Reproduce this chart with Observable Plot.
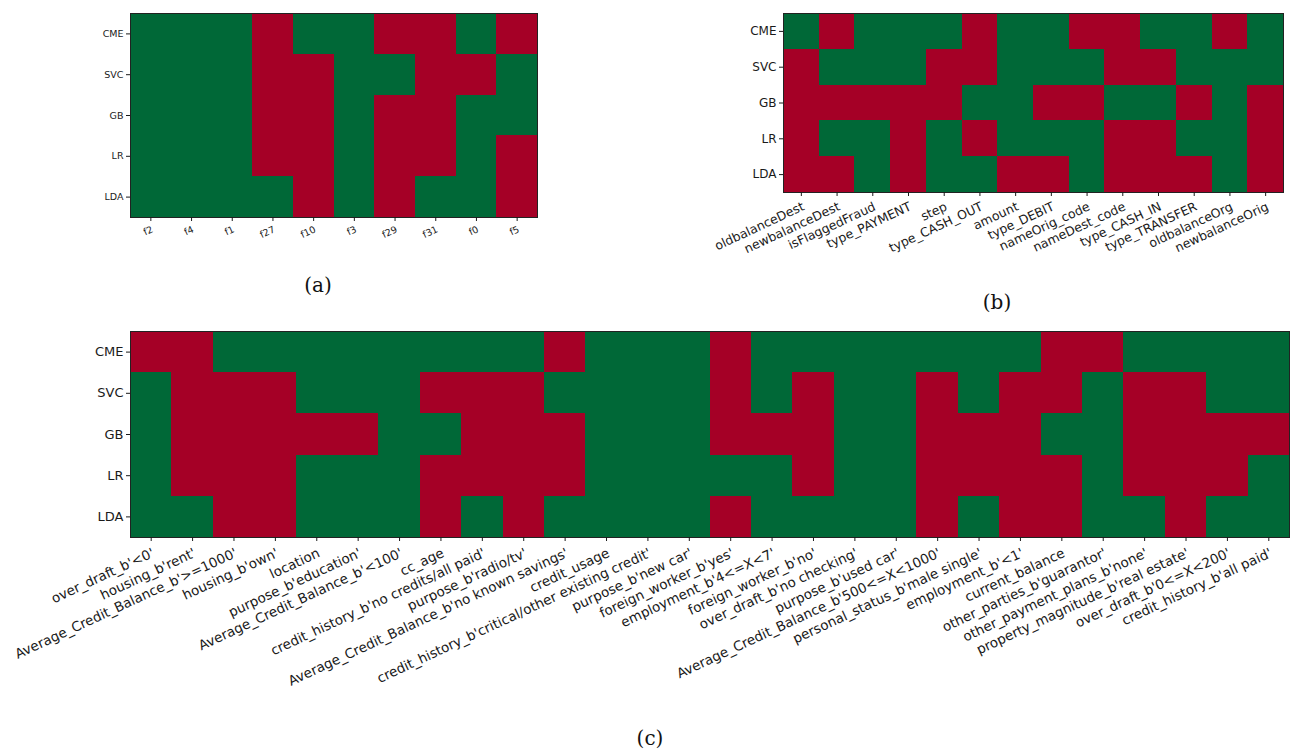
<!DOCTYPE html>
<html>
<head>
<meta charset="utf-8">
<script src="https://cdn.jsdelivr.net/npm/d3@7"></script>
<script src="https://cdn.jsdelivr.net/npm/@observablehq/plot@0.6"></script>
<style>
  html, body { margin: 0; padding: 0; background: #fff; }
  #fig { position: relative; width: 1291px; height: 751px; overflow: hidden; }
  .panel { position: absolute; }
  .panel svg { overflow: visible; max-width: none; }
  .cap { position: absolute; font-family: "DejaVu Serif", "Liberation Serif", serif; font-size: 20px; color: #111;
         transform: translate(-50%, -50%); white-space: nowrap; }
</style>
</head>
<body>
<div id="fig"></div>
<script>
// Models on the rows of every panel
const models = ["CME", "SVC", "GB", "LR", "LDA"];

// Panel (a): features and flags (1 = red, 0 = green), one row per model
const featuresA = ["f2", "f4", "f1", "f27", "f10", "f3", "f29", "f31", "f0", "f5"];
const flagsA = [
  [0, 0, 0, 1, 0, 0, 1, 1, 0, 1],
  [0, 0, 0, 1, 1, 0, 0, 1, 1, 0],
  [0, 0, 0, 1, 1, 0, 1, 1, 0, 0],
  [0, 0, 0, 1, 1, 0, 1, 1, 0, 1],
  [0, 0, 0, 0, 1, 0, 1, 0, 0, 1]
];

// Panel (b)
const featuresB = ["oldbalanceDest", "newbalanceDest", "isFlaggedFraud", "type_PAYMENT", "step",
  "type_CASH_OUT", "amount", "type_DEBIT", "nameOrig_code", "nameDest_code", "type_CASH_IN",
  "type_TRANSFER", "oldbalanceOrg", "newbalanceOrig"];
const flagsB = [
  [0, 1, 0, 0, 0, 1, 0, 0, 1, 1, 0, 0, 1, 0],
  [1, 0, 0, 0, 1, 1, 0, 0, 0, 1, 1, 0, 0, 0],
  [1, 1, 1, 1, 1, 0, 0, 1, 1, 0, 0, 1, 0, 1],
  [1, 0, 0, 1, 0, 1, 0, 0, 0, 1, 1, 0, 0, 1],
  [1, 1, 0, 1, 0, 0, 1, 1, 0, 1, 1, 1, 0, 1]
];

// Panel (c)
const featuresC = ["over_draft_b'<0'", "housing_b'rent'", "Average_Credit_Balance_b'>=1000'",
  "housing_b'own'", "location", "purpose_b'education'", "Average_Credit_Balance_b'<100'", "cc_age",
  "credit_history_b'no credits/all paid'", "purpose_b'radio/tv'",
  "Average_Credit_Balance_b'no known savings'", "credit_usage",
  "credit_history_b'critical/other existing credit'", "purpose_b'new car'", "foreign_worker_b'yes'",
  "employment_b'4<=X<7'", "foreign_worker_b'no'", "over_draft_b'no checking'", "purpose_b'used car'",
  "Average_Credit_Balance_b'500<=X<1000'", "personal_status_b'male single'", "employment_b'<1'",
  "current_balance", "other_parties_b'guarantor'", "other_payment_plans_b'none'",
  "property_magnitude_b'real estate'", "over_draft_b'0<=X<200'", "credit_history_b'all paid'"];
const flagsC = [
  [1, 1, 0, 0, 0, 0, 0, 0, 0, 0, 1, 0, 0, 0, 1, 0, 0, 0, 0, 0, 0, 0, 1, 1, 0, 0, 0, 0],
  [0, 1, 1, 1, 0, 0, 0, 1, 1, 1, 0, 0, 0, 0, 1, 0, 1, 0, 0, 1, 0, 1, 1, 0, 1, 1, 0, 0],
  [0, 1, 1, 1, 1, 1, 0, 0, 1, 1, 1, 0, 0, 0, 1, 1, 1, 0, 0, 1, 1, 1, 0, 0, 1, 1, 1, 1],
  [0, 1, 1, 1, 0, 0, 0, 1, 1, 1, 1, 0, 0, 0, 0, 0, 1, 0, 0, 1, 1, 1, 1, 0, 1, 1, 1, 0],
  [0, 0, 1, 1, 0, 0, 0, 1, 0, 1, 0, 0, 0, 0, 1, 0, 0, 0, 0, 1, 0, 1, 1, 0, 0, 1, 0, 0]
];

const flagColors = ["#006837", "#a50026"];

function heatmap(features, flags, opts) {
  const cells = models.flatMap((m, i) => features.map((f, j) => ({model: m, feature: f, flag: flags[i][j]})));
  return Plot.plot({
    width: opts.width,
    height: opts.height,
    marginLeft: opts.marginLeft,
    marginRight: opts.marginRight,
    marginTop: opts.marginTop,
    marginBottom: opts.marginBottom,
    style: {fontFamily: "'DejaVu Sans', sans-serif", fontSize: opts.fontSize + "px", color: "#1a1a1a", background: "transparent"},
    x: {domain: features, padding: 0, round: false, label: null},
    y: {domain: models, padding: 0, round: false, label: null},
    color: {type: "ordinal", domain: [0, 1], range: flagColors},
    marks: [
      Plot.cell(cells, {x: "feature", y: "model", fill: "flag", inset: 0, shapeRendering: "crispEdges"}),
      Plot.frame({stroke: "#222", strokeWidth: 1}),
      Plot.axisX({tickRotate: -25, tickSize: 4, tickPadding: opts.xPad, lineAnchor: "top", textAnchor: "end",
                  label: null, fontSize: opts.fontSize}),
      Plot.axisY({tickSize: 4, tickPadding: 3, label: null, fontSize: opts.yFontSize})
    ]
  });
}

const fig = document.getElementById("fig");

function place(node, left, top) {
  const wrap = document.createElement("div");
  wrap.className = "panel";
  wrap.style.left = left + "px";
  wrap.style.top = top + "px";
  wrap.appendChild(node);
  fig.appendChild(wrap);
}

function caption(text, cx, cy) {
  const d = document.createElement("div");
  d.className = "cap";
  d.textContent = text;
  d.style.left = cx + "px";
  d.style.top = cy + "px";
  fig.appendChild(d);
}

place(heatmap(featuresA, flagsA, {
  width: 560, height: 260, marginLeft: 130, marginRight: 23, marginTop: 13, marginBottom: 43,
  fontSize: 9.5, yFontSize: 9.5, xPad: 4
}), 0, 0);

place(heatmap(featuresB, flagsB, {
  width: 651, height: 280, marginLeft: 143, marginRight: 8, marginTop: 13, marginBottom: 88,
  fontSize: 12.5, yFontSize: 12, xPad: 5
}), 640, 0);

place(heatmap(featuresC, flagsC, {
  width: 1291, height: 430, marginLeft: 130, marginRight: 2, marginTop: 31, marginBottom: 193,
  fontSize: 13.5, yFontSize: 13, xPad: 6
}), 0, 300);

caption("(a)", 318, 285);
caption("(b)", 997, 302);
caption("(c)", 650, 738);
</script>
</body>
</html>
